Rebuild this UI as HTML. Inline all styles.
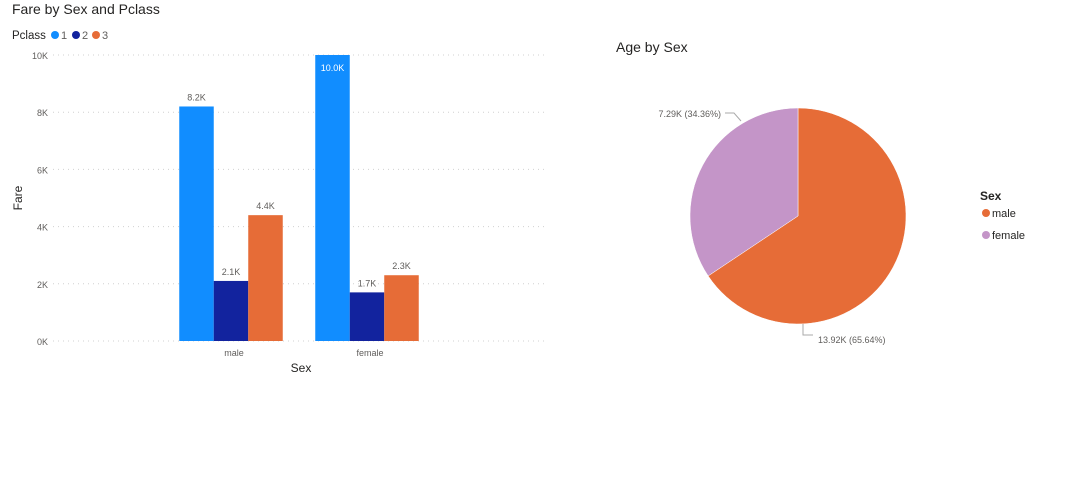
<!DOCTYPE html>
<html><head><meta charset="utf-8"><style>
body{margin:0;background:#fff;font-family:"Liberation Sans","DejaVu Sans",sans-serif;}
svg text{font-family:"Liberation Sans","DejaVu Sans",sans-serif;}
</style></head><body>
<svg id="c" width="1075" height="474" xmlns="http://www.w3.org/2000/svg">
<text x="12" y="14" font-size="14" fill="#252423">Fare by Sex and Pclass</text>
<g>
<text x="12" y="39" font-size="11.5" fill="#252423">Pclass</text>
<circle cx="55" cy="35" r="4" fill="#118DFF"/><text x="61" y="39" font-size="11" fill="#605e5c">1</text>
<circle cx="76" cy="35" r="4" fill="#12239E"/><text x="82" y="39" font-size="11" fill="#605e5c">2</text>
<circle cx="96" cy="35" r="4" fill="#E66C37"/><text x="102" y="39" font-size="11" fill="#605e5c">3</text>
</g>
<g id="bars"></g>
<text x="301" y="372" font-size="12" fill="#252423" text-anchor="middle">Sex</text>
<text transform="translate(22,198) rotate(-90)" font-size="12" fill="#252423" text-anchor="middle">Fare</text>
<text x="616" y="52" font-size="14" fill="#252423">Age by Sex</text>
<g id="pie"></g>
<g>
<text x="980" y="200" font-size="12" font-weight="bold" fill="#252423">Sex</text>
<circle cx="986" cy="213" r="4" fill="#E66C37"/><text x="992" y="217" font-size="11" fill="#252423">male</text>
<circle cx="986" cy="235" r="4" fill="#C495C8"/><text x="992" y="239" font-size="11" fill="#252423">female</text>
</g>
</svg>
<script>
const categories=["male","female"];
const class1=[8.2,10.0];
const class2=[2.1,1.7];
const class3=[4.4,2.3];
const yTicks=[0,2,4,6,8,10];
const pieLabels=["male","female"];
const pieValues=[13.918,7.286];
const NS="http://www.w3.org/2000/svg";
function mk(t,a,p){const e=document.createElementNS(NS,t);for(const k in a)e.setAttribute(k,a[k]);p.appendChild(e);return e;}
const bars=document.getElementById('bars');
const y0=341,y1=55,yMax=10;
const yS=v=>y0-(y0-y1)*v/yMax;
const xStart=163,catW=136,barW=34.5;
yTicks.forEach(t=>{
 const l=mk('line',{x1:53,x2:548,y1:yS(t),y2:yS(t),stroke:'#d0d0d0','stroke-dasharray':'1 4'},bars);
 
 
 const tx=mk('text',{x:48,y:yS(t)+4,'font-size':9,fill:'#605e5c','text-anchor':'end'},bars);
 tx.textContent=t+'K';
 
 
});
const series=[class1,class2,class3],cols=["#118DFF","#12239E","#E66C37"];
categories.forEach((c,i)=>{
 const cx=xStart+catW*i+catW/2;
 const gx=cx-barW*1.5;
 series.forEach((s,j)=>{
  const v=s[i];
  const r=mk('rect',{x:gx+j*barW,y:yS(v),width:barW,height:y0-yS(v),fill:cols[j]},bars);
  
  
  const inside=v>=9.5;
  const t=mk('text',{x:gx+j*barW+barW/2,y:inside?yS(v)+16:yS(v)-6,'font-size':9,fill:inside?'#fff':'#605e5c','text-anchor':'middle'},bars);
  t.textContent=v.toFixed(1)+'K';
  
  
 });
 const lt=mk('text',{x:cx+3,y:356,'font-size':9,fill:'#605e5c','text-anchor':'middle'},bars);
 lt.textContent=c;
 
 
});
const pie=document.getElementById('pie');
const pcx=798,pcy=216,R=108;
const tot=pieValues.reduce((a,b)=>a+b,0);
const pcols=["#E66C37","#C495C8"];
let a0=0;
pieValues.forEach((v,i)=>{
 const a1=a0+v/tot*2*Math.PI;
 const p=(a)=>[pcx+R*Math.sin(a),pcy-R*Math.cos(a)];
 const [x0,yy0]=p(a0),[x1,yy1]=p(a1);
 const path=mk('path',{d:`M${pcx},${pcy}L${x0},${yy0}A${R},${R} 0 ${a1-a0>Math.PI?1:0} 1 ${x1},${yy1}Z`,fill:pcols[i],stroke:'#fff','stroke-width':0.5},pie);
 
 
 a0=a1;
});
const pct=pieValues.map(v=>(v/tot*100).toFixed(2));
const l1=mk('polyline',{points:'803,324 803,335 813,335',fill:'none',stroke:'#aaa'},pie);


const t1=mk('text',{x:818,y:343,'font-size':9,fill:'#605e5c'},pie);
t1.textContent=pieValues[0].toFixed(2)+'K ('+pct[0]+'%)';


const l2=mk('polyline',{points:'725,113 734,113 741,121',fill:'none',stroke:'#aaa'},pie);


const t2=mk('text',{x:721,y:117,'font-size':9,fill:'#605e5c','text-anchor':'end'},pie);
t2.textContent=pieValues[1].toFixed(2)+'K ('+pct[1]+'%)';


</script>
</body></html>
